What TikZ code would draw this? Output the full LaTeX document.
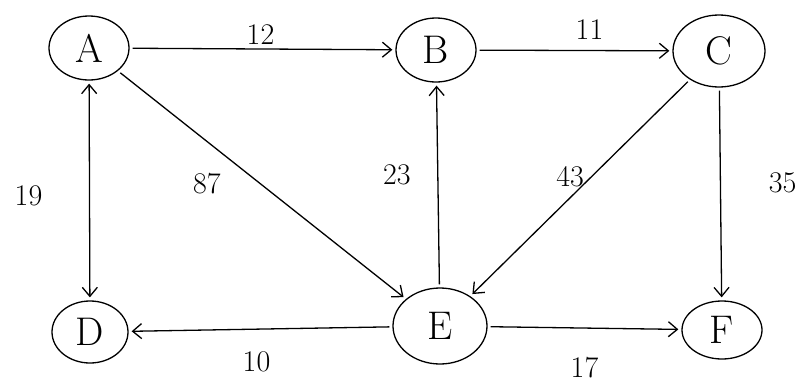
\documentclass[tikz,border=0pt]{standalone}
\usetikzlibrary{arrows.meta,shapes.geometric}
\begin{document}
\begin{tikzpicture}[x=1pt,y=-1pt,
  vert/.style={draw,ellipse,line width=1.3pt,minimum width=80pt,minimum height=64pt,inner sep=0pt,font=\fontsize{40}{44}\selectfont},
  edge/.style={line width=1.3pt,shorten >=3pt,shorten <=3pt,-{Straight Barb[length=9pt,width=15pt,line width=1.3pt]}},
  both/.style={line width=1.3pt,shorten >=3pt,shorten <=3pt,{Straight Barb[length=9pt,width=15pt,line width=1.3pt]}-{Straight Barb[length=9pt,width=15pt,line width=1.3pt]}},
  lab/.style={font=\fontsize{30}{34}\selectfont,pos=0.5,anchor=center}]
\useasboundingbox (0,0) rectangle (806,383);
\node[vert] (A) at (89,48) {A};
\node[vert] (B) at (436,50) {B};
\node[vert,minimum width=92pt,minimum height=72pt] (C) at (719,51) {C};
\node[vert,minimum width=76pt,minimum height=62pt] (D) at (90,332) {D};
\node[vert,minimum width=94pt,minimum height=76pt] (E) at (440,326) {E};
\node[vert,minimum width=80pt,minimum height=58pt] (F) at (722,330) {F};
\draw[edge] (A) -- node[lab,xshift=-2pt,yshift=14pt] {12} (B);
\draw[edge] (B) -- node[lab,xshift=15pt,yshift=21pt] {11} (C);
\draw[edge] (C) -- node[lab,xshift=62pt,yshift=11pt] {35} (F);
\draw[edge] (C) -- node[lab,xshift=-10pt,yshift=11pt] {43} (E);
\draw[edge] (E) -- node[lab,xshift=-41pt,yshift=10pt] {23} (B);
\draw[edge] (A) -- node[lab,xshift=-55pt,yshift=1pt] {87} (E);
\draw[edge] (E) -- node[lab,xshift=-4pt,yshift=-33pt] {10} (D);
\draw[edge] (E) -- node[lab,yshift=-40pt] {17} (F);
\draw[both] (A) -- node[lab,xshift=-61pt,yshift=-5pt] {19} (D);
\end{tikzpicture}
\end{document}
